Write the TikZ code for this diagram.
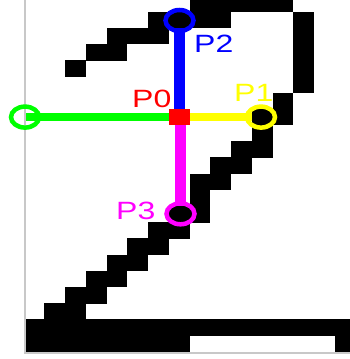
\documentclass[tikz,border=0pt]{standalone}
\usepackage{fontspec}
\setmainfont{Liberation Sans}
\usepackage{graphicx}
\usetikzlibrary{shapes.geometric}
\definecolor{spine}{RGB}{200,200,200}
\definecolor{cgreen}{RGB}{0,255,0}
\definecolor{cyellow}{RGB}{255,255,0}
\definecolor{cblue}{RGB}{0,0,255}
\definecolor{cmag}{RGB}{255,0,255}
\definecolor{cred}{RGB}{255,0,0}
\tikzset{
  ring/.style={ellipse, draw=#1, line width=4.5pt, minimum width=28pt, minimum height=21pt, inner sep=0pt},
  hray/.style={draw=#1, line width=8pt},
  vray/.style={draw=#1, line width=10.5pt},
  lbl/.style={text=#1, anchor=base west, inner sep=0pt, font=\fontsize{25}{30}\selectfont},
}
\newcommand{\wide}[1]{\scalebox{1.28}[1]{#1}}
\begin{document}
\begin{tikzpicture}[x=1pt,y=1pt]
\useasboundingbox (0,0) rectangle (350,-359);
\fill[white] (0,0) rectangle (350,-359);
\def\cw{20.77}
\def\ch{16.2}
% pixel image
\begin{scope}
\clip (25,0) rectangle (350,-352.4);
\foreach \r/\a/\b in {-1/6/10, 0/4/7, 0/11/11, 1/2/4, 1/11/11, 2/1/2, 2/11/11,
  3/0/0, 3/11/11, 4/11/11, 5/10/10, 6/9/10, 7/9/9, 8/8/9, 9/7/8, 10/6/7,
  11/6/6, 12/5/6, 13/4/5, 14/3/4, 15/2/3, 16/1/2, 17/0/1, 18/-1/0,
  19/-2/13, 20/-2/5, 20/13/13}{
  \fill[black] ({65+\cw*\a}, {-(11.8+\ch*\r)+0.2}) rectangle ({65+\cw*(\b+1)}, {-(11.8+\ch*(\r+1))-0.2});
}
\end{scope}
% frame
\draw[spine, line width=2.2pt] (25,0) -- (25,-352.8) -- (350,-352.8);
% points
\coordinate (c0) at (179.5,-117.1);
\coordinate (c1) at (261,-117.1);
\coordinate (c2) at (179.5,-20.5);
\coordinate (c3) at (180.5,-213.8);
\coordinate (c4) at (25,-117.1);
\coordinate (e1) at (252.3,-117.1);
\coordinate (e2) at (179.5,-28);
\coordinate (e3) at (180.5,-206.2);
\coordinate (e4) at (26,-117.1);
\node[fill=cred, minimum width=20.8pt, minimum height=16.2pt, inner sep=0pt] (p0) at (c0) {};
\draw[hray=cgreen] (p0.west) -- (e4);
\draw[hray=cyellow] (p0.east) -- (e1);
\draw[vray=cblue] (p0.north) -- (e2);
\draw[vray=cmag] ([xshift=1pt]p0.south) -- (e3);
\node[ring=cyellow] (p1) at (c1) {};
\node[ring=cblue] (p2) at (c2) {};
\node[ring=cmag] (p3) at (c3) {};
\node[ring=cgreen] (p4) at (c4) {};
\node[lbl=cred] (l0) at (132,-107) {\wide{P0}};
\node[lbl=cyellow] (l1) at (234,-101) {\wide{P1}};
\node[lbl=cblue] (l2) at (194,-52.7) {\wide{P2}};
\node[lbl=cmag] (l3) at (116,-219) {\wide{P3}};
\end{tikzpicture}
\end{document}
